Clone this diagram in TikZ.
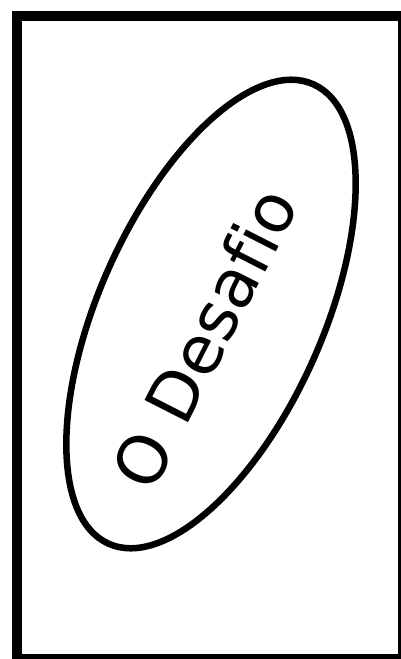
\documentclass[tikz,border=0pt]{standalone}
\usepackage{fontspec}
\setmainfont{DejaVu Sans}[Ligatures=NoCommon]
\usetikzlibrary{shapes.geometric}

\begin{document}
\begin{tikzpicture}[x=1pt,y=-1pt,
  frame/.style={draw=black,line width=10pt},
  bubble/.style={draw=black,line width=6.5pt,ellipse,inner sep=0pt,
    minimum width=503pt,minimum height=224pt},
  title/.style={inner sep=0pt,font=\fontsize{67}{74}\selectfont}]
\useasboundingbox (0,0) rectangle (401,659);
% outer frame
\draw[frame] (17,15.5) rectangle (403,659);
% the tilted ellipse and its text
\node[bubble,rotate=66] (desafio) at (211,314) {};
\node[title,rotate=63] (titulo) at (204,338) {O Desafio};
\end{tikzpicture}
\end{document}
